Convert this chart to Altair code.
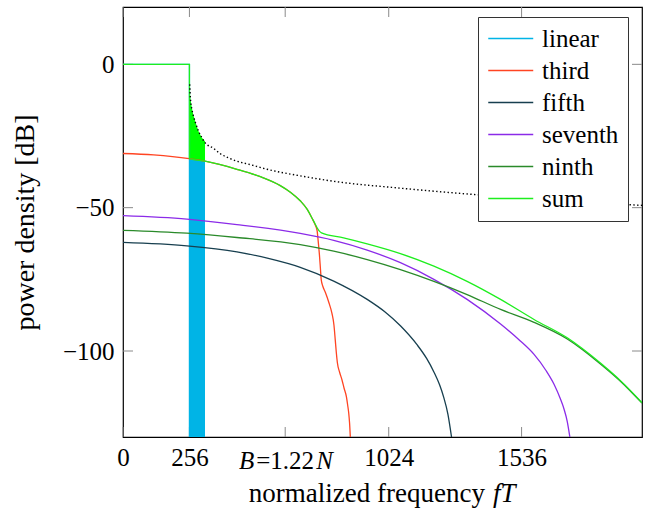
import altair as alt
import pandas as pd

# ---------------- data ----------------
linear_f = [0, 256, 256]
linear_db = [0, 0, -130]

third_f = [0, 118, 255, 316, 439, 529, 606, 645, 683, 710, 728, 740, 748, 752, 757, 761, 764,
           770, 780, 793, 805, 813, 818, 822, 826, 835, 844, 852, 861, 866, 870, 873, 876]
third_db = [-31.1, -31.6, -32.9, -33.8, -36.6, -39.2, -42.3, -44.6, -47.6, -50.6, -53.6, -55.9,
            -58.0, -61.5, -66.5, -71.5, -75.2, -77.4, -79.6, -83.0, -86.8, -91.0, -96.2, -100.5,
            -104.0, -107.5, -110.1, -113.0, -116.0, -119.0, -121.8, -125.0, -130.0]

fifth_f = [0, 246, 439, 560, 683, 812, 941, 1010, 1069, 1133, 1170, 1198, 1220, 1236, 1252, 1266]
fifth_db = [-62.1, -63.3, -65.4, -67.7, -70.8, -75.6, -82.0, -86.4, -91.2, -97.8, -102.6, -107.3,
            -111.8, -116.2, -122.0, -130.0]

seventh_f = [0, 246, 439, 683, 812, 941, 1069, 1198, 1326, 1455, 1530, 1584, 1630, 1661, 1685,
             1700, 1712, 1722]
seventh_db = [-52.8, -54.0, -55.9, -59.0, -61.4, -64.8, -69.2, -75.0, -82.0, -90.6, -96.4,
              -101.2, -106.8, -111.6, -116.6, -120.4, -124.6, -130.0]

ninth_f = [0, 246, 439, 683, 812, 941, 1069, 1198, 1326, 1455, 1584, 1712, 1841, 1920, 2000]
ninth_db = [-57.9, -58.9, -60.4, -62.9, -65.2, -68.1, -71.6, -75.7, -80.3, -85.5, -90.0,
            -95.8, -104.6, -110.8, -118.2]

sum_f = [0, 256, 256, 316, 439, 529, 606, 645, 683, 710, 728, 740, 748, 756, 765, 850, 941,
         1069, 1198, 1326, 1455, 1584, 1712, 1841, 1920, 2000]
sum_db = [0, 0, -32.9, -33.8, -36.6, -39.2, -42.3, -44.6, -47.6, -50.6, -53.6, -55.6, -57.0,
          -58.1, -58.8, -60.5, -62.6, -66.0, -70.4, -75.7, -82.0, -89.0, -95.4, -104.3, -110.6,
          -118.0]

# oscillating region just above the band edge (drawn as filled bands)
band_f = [256, 260, 265, 270, 278, 291, 304, 316]
band_top_db = [-8.0, -12.0, -15.0, -17.2, -19.8, -23.3, -25.6, -26.8]
band_mid_db = [-32.9, -33.0, -33.1, -33.2, -33.3, -33.5, -33.6, -33.8]
band_low_db = [-130, -130, -130, -130, -130, -130, -130, -130]

envelope_f = [257, 260, 265, 270, 278, 291, 304, 316, 349, 374, 413, 503, 555, 683, 812,
              1069, 1365, 1650, 2000]
envelope_db = [-7.0, -12.0, -15.5, -17.5, -20.0, -23.3, -25.6, -27.3, -29.3, -31.1, -32.9,
               -35.3, -36.6, -38.9, -40.8, -43.2, -45.5, -47.4, -49.2]

series_names = ["linear", "third", "fifth", "seventh", "ninth", "sum"]
series_colors = ["#00B4E6", "#FF4422", "#173F4F", "#8B2BE8", "#2A8A2A", "#1EEE1E"]

x_ticks = [0, 256, 625, 1024, 1536]
x_labels = [0, 256, 1024, 1536]
y_ticks = [-100, -50, 0]

# ---------------- layout ----------------
W, H = 519, 430
FONT = "Liberation Serif"
FS = 25
TFS = 27

xs = alt.Scale(domain=[0, 2000], nice=False, zero=False)
ys = alt.Scale(domain=[-130, 20], nice=False, zero=False)
cscale = alt.Scale(domain=series_names, range=series_colors)

legend = alt.Legend(
    title=None, orient="none", legendX=355, legendY=10,
    symbolType="M-1,0H3", symbolSize=506, symbolStrokeWidth=1.5,
    labelFont=FONT, labelFontSize=FS, labelColor="black", labelOffset=30,
    strokeColor="#333333", fillColor="white", padding=9, rowPadding=6,
    cornerRadius=0, labelLimit=300,
)


def series_df(name, f, db):
    return pd.DataFrame({"f": f, "db": db, "series": name})


def line_layer(name, f, db, interp="monotone"):
    return alt.Chart(series_df(name, f, db)).mark_line(
        strokeWidth=1.3, interpolate=interp, clip=True
    ).encode(
        x=alt.X("f:Q", scale=xs),
        y=alt.Y("db:Q", scale=ys),
        color=alt.Color("series:N", scale=cscale, legend=legend, sort=series_names),
    )


tickgray = "#8a8a8a"
xt = pd.DataFrame({"v": x_ticks})
yt = pd.DataFrame({"v": y_ticks})

xtick_bottom = alt.Chart(xt).mark_rule(color=tickgray, strokeWidth=1).encode(
    x=alt.X("v:Q", scale=xs,
            axis=alt.Axis(values=x_labels, format="d", title=None, ticks=False, domain=False,
                          grid=False, labelFont=FONT, labelFontSize=FS, labelColor="black",
                          labelPadding=8, labelFlush=False)),
    y=alt.value(H), y2=alt.value(H - 10))
xtick_top = alt.Chart(xt).mark_rule(color=tickgray, strokeWidth=1).encode(
    x=alt.X("v:Q", scale=xs), y=alt.value(0), y2=alt.value(10))
ytick_left = alt.Chart(yt).mark_rule(color=tickgray, strokeWidth=1).encode(
    y=alt.Y("v:Q", scale=ys,
            axis=alt.Axis(values=y_ticks, format="d", title="power density [dB]", ticks=False,
                          domain=False, grid=False, labelFont=FONT, labelFontSize=FS,
                          labelColor="black", labelPadding=9, labelFlush=False,
                          labelExpr="replace(datum.label, '-', '\u2212')",
                          titleFont=FONT, titleFontSize=28, titleFontWeight="normal",
                          titleColor="black", titlePadding=23)),
    x=alt.value(0), x2=alt.value(10))
ytick_right = alt.Chart(yt).mark_rule(color=tickgray, strokeWidth=1).encode(
    y=alt.Y("v:Q", scale=ys), x=alt.value(W), x2=alt.value(W - 10))

band_df = pd.DataFrame({"f": band_f, "top": band_top_db, "mid": band_mid_db, "low": band_low_db})
cyan_band = alt.Chart(band_df).mark_area(color="#00B4E6", clip=True).encode(
    x=alt.X("f:Q", scale=xs), y=alt.Y("mid:Q", scale=ys), y2="low:Q")
green_band = alt.Chart(band_df).mark_area(color="#00FF00", clip=True).encode(
    x=alt.X("f:Q", scale=xs), y=alt.Y("top:Q", scale=ys), y2="mid:Q")

env_df = pd.DataFrame({"f": envelope_f, "db": envelope_db})
envelope = alt.Chart(env_df).mark_line(
    color="black", strokeWidth=1.4, strokeDash=[1.4, 2.4], interpolate="monotone", clip=True
).encode(x=alt.X("f:Q", scale=xs), y=alt.Y("db:Q", scale=ys))

# B = 1.22 N tick label with italic letters
one = alt.Data(values=[{"v": 625}])
b_mid = alt.Chart(one).mark_text(text="=1.22", font=FONT, fontSize=FS, align="center",
                                 baseline="alphabetic", color="black").encode(
    x=alt.X("v:Q", scale=xs), y=alt.value(H + 32))
b_left = alt.Chart(one).mark_text(text="B", font=FONT, fontSize=FS, fontStyle="italic",
                                  align="right", baseline="alphabetic", dx=-31,
                                  color="black").encode(
    x=alt.X("v:Q", scale=xs), y=alt.value(H + 32))
b_right = alt.Chart(one).mark_text(text="N", font=FONT, fontSize=FS, fontStyle="italic",
                                   align="left", baseline="alphabetic", dx=31,
                                   color="black").encode(
    x=alt.X("v:Q", scale=xs), y=alt.value(H + 32))

# x axis title with italic fT (split point chosen so the whole title is centred)
t0 = alt.Data(values=[{"a": 1}])
SPLIT = 362
xtitle_a = alt.Chart(t0).mark_text(text="normalized frequency", font=FONT, fontSize=TFS,
                                   align="right", baseline="alphabetic", color="black").encode(
    x=alt.value(SPLIT), y=alt.value(H + 65))
xtitle_b = alt.Chart(t0).mark_text(text="fT", font=FONT, fontSize=TFS, fontStyle="italic",
                                   align="left", baseline="alphabetic", dx=8, color="black").encode(
    x=alt.value(SPLIT), y=alt.value(H + 65))

chart = alt.layer(
    xtick_bottom, xtick_top, ytick_left, ytick_right,
    cyan_band, green_band,
    line_layer("linear", linear_f, linear_db, "linear"),
    line_layer("third", third_f, third_db),
    line_layer("fifth", fifth_f, fifth_db),
    line_layer("seventh", seventh_f, seventh_db),
    line_layer("ninth", ninth_f, ninth_db),
    line_layer("sum", sum_f, sum_db),
    envelope,
    b_mid, b_left, b_right, xtitle_a, xtitle_b,
).properties(
    width=W, height=H,
    autosize=alt.AutoSizeParams(type="none"),
    padding={"left": 123, "top": 7, "right": 7, "bottom": 71},
    background="white",
).configure(font=FONT).configure_view(stroke="black", strokeWidth=1.2)

chart.save("out.html", embed_options={"renderer": "svg", "actions": False})
